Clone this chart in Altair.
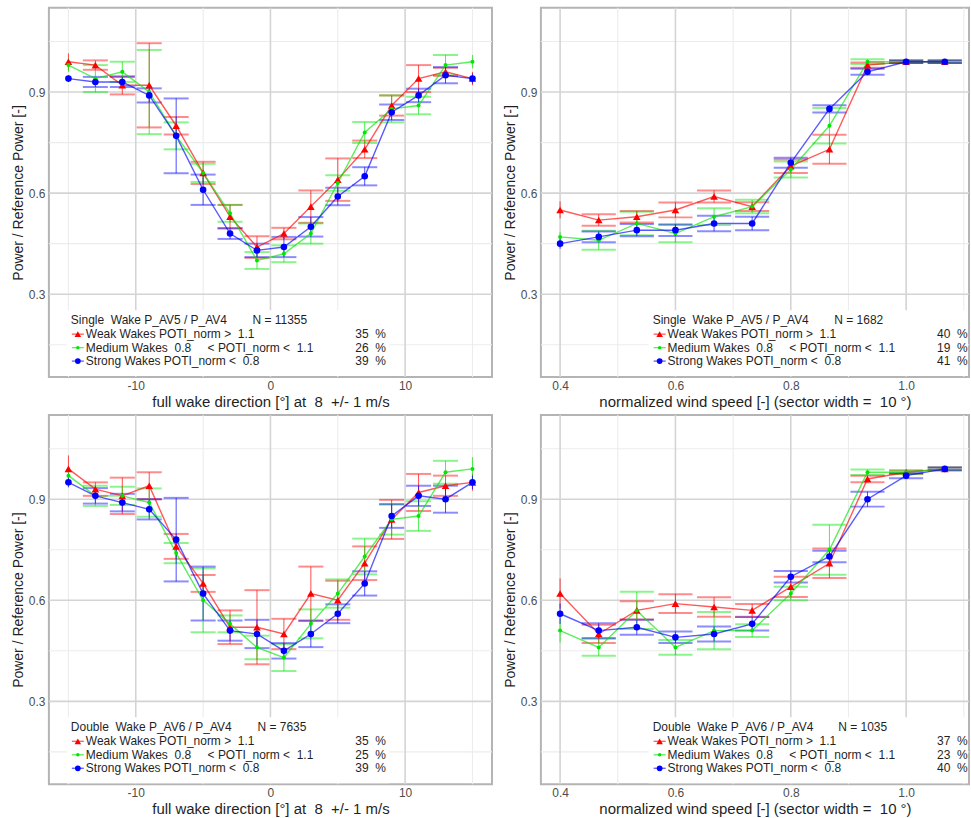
import altair as alt
import pandas as pd

FONT = "Liberation Sans"
TEXT = "#1f1f1f"

# x positions: wake direction bins [deg] and normalised wind-speed bins [-]
DIRECTION = [-15, -13, -11, -9, -7, -5, -3, -1, 1, 3, 5, 7, 9, 11, 13, 15]
SPEED = [0.4, 0.467, 0.533, 0.6, 0.667, 0.733, 0.8, 0.867, 0.933, 1.0, 1.067]

# Single wake P_AV5 / P_AV4 vs. direction
S_DIR_WEAK = [0.99, 0.98, 0.92, 0.92, 0.80, 0.66, 0.53, 0.44, 0.48, 0.56, 0.64, 0.73, 0.86, 0.94, 0.96, 0.94]
S_DIR_WEAK_ERR = [0.025, 0.014, 0.027, 0.125, 0.026, 0.033, 0.035, 0.032, 0.017, 0.048, 0.063, 0.026, 0.03, 0.04, 0.012, 0.02]
S_DIR_MED = [0.98, 0.94, 0.96, 0.90, 0.77, 0.66, 0.54, 0.40, 0.42, 0.48, 0.63, 0.78, 0.85, 0.86, 0.98, 0.99]
S_DIR_MED_ERR = [0.02, 0.04, 0.03, 0.125, 0.04, 0.027, 0.025, 0.025, 0.025, 0.03, 0.023, 0.031, 0.04, 0.026, 0.03, 0.02]
S_DIR_STRONG = [0.94, 0.93, 0.93, 0.89, 0.77, 0.61, 0.48, 0.43, 0.44, 0.50, 0.59, 0.65, 0.84, 0.89, 0.95, 0.94]
S_DIR_STRONG_ERR = [0.01, 0.015, 0.015, 0.021, 0.111, 0.045, 0.016, 0.02, 0.03, 0.029, 0.026, 0.027, 0.023, 0.02, 0.024, 0.015]

# Single wake P_AV5 / P_AV4 vs. wind speed
S_SPD_WEAK = [0.55, 0.52, 0.53, 0.55, 0.59, 0.56, 0.68, 0.73, 0.98, 0.99, 0.99]
S_SPD_WEAK_ERR = [0.025, 0.017, 0.017, 0.022, 0.018, 0.013, 0.02, 0.043, 0.008, 0.004, 0.004]
S_SPD_MED = [0.47, 0.46, 0.51, 0.48, 0.53, 0.56, 0.67, 0.80, 0.99, 0.99, 0.99]
S_SPD_MED_ERR = [0.015, 0.028, 0.035, 0.026, 0.025, 0.02, 0.024, 0.053, 0.007, 0.004, 0.004]
S_SPD_STRONG = [0.45, 0.47, 0.49, 0.49, 0.51, 0.51, 0.69, 0.85, 0.96, 0.99, 0.99]
S_SPD_STRONG_ERR = [0.015, 0.016, 0.018, 0.017, 0.023, 0.02, 0.015, 0.011, 0.009, 0.004, 0.004]

# Double wake P_AV6 / P_AV4 vs. direction
D_DIR_WEAK = [0.99, 0.93, 0.91, 0.94, 0.76, 0.65, 0.52, 0.52, 0.50, 0.62, 0.60, 0.71, 0.84, 0.92, 0.94, 0.95]
D_DIR_WEAK_ERR = [0.04, 0.02, 0.054, 0.04, 0.037, 0.025, 0.05, 0.11, 0.045, 0.08, 0.058, 0.05, 0.058, 0.055, 0.03, 0.025]
D_DIR_MED = [0.97, 0.91, 0.91, 0.89, 0.74, 0.60, 0.53, 0.46, 0.43, 0.53, 0.62, 0.73, 0.84, 0.85, 0.98, 0.99]
D_DIR_MED_ERR = [0.015, 0.03, 0.027, 0.042, 0.03, 0.095, 0.025, 0.035, 0.04, 0.043, 0.042, 0.053, 0.045, 0.044, 0.034, 0.035]
D_DIR_STRONG = [0.95, 0.91, 0.89, 0.87, 0.78, 0.62, 0.51, 0.50, 0.45, 0.50, 0.56, 0.65, 0.85, 0.91, 0.90, 0.95]
D_DIR_STRONG_ERR = [0.015, 0.023, 0.026, 0.03, 0.124, 0.08, 0.03, 0.042, 0.023, 0.039, 0.028, 0.036, 0.035, 0.03, 0.04, 0.02]

# Double wake P_AV6 / P_AV4 vs. wind speed
D_SPD_WEAK = [0.62, 0.50, 0.57, 0.59, 0.58, 0.57, 0.64, 0.71, 0.96, 0.98, 0.99]
D_SPD_WEAK_ERR = [0.045, 0.027, 0.027, 0.028, 0.029, 0.019, 0.03, 0.044, 0.01, 0.005, 0.004]
D_SPD_MED = [0.51, 0.46, 0.57, 0.46, 0.51, 0.51, 0.62, 0.75, 0.98, 0.98, 0.99]
D_SPD_MED_ERR = [0.035, 0.025, 0.055, 0.022, 0.055, 0.019, 0.02, 0.074, 0.008, 0.005, 0.004]
D_SPD_STRONG = [0.56, 0.51, 0.52, 0.49, 0.50, 0.53, 0.67, 0.73, 0.90, 0.97, 0.99]
D_SPD_STRONG_ERR = [0.03, 0.022, 0.022, 0.017, 0.022, 0.02, 0.017, 0.017, 0.022, 0.008, 0.004]

# Share of samples per wake class [%] and sample counts
S_DIR_PCT = [35, 26, 39]
S_SPD_PCT = [40, 19, 41]
D_DIR_PCT = [35, 25, 39]
D_SPD_PCT = [37, 23, 40]
N_SAMPLES = [11355, 1682, 7635, 1035]

SERIES = ["Weak", "Medium", "Strong"]
COLORS = ["#ff0000", "#00e600", "#0000ff"]
SHAPES = ["triangle-up", "circle", "circle"]
SIZES = [58, 16, 44]
ITEM_TEXT = ["Weak Wakes POTI_norm >\u00a0 1.1", "Medium Wakes\u00a0 0.8", "Strong Wakes POTI_norm <\u00a0 0.8"]
MEDIUM_RANGE = "< POTI_norm <\u00a0 1.1"
HEADERS = ["Single\u00a0 Wake P_AV5 / P_AV4", "Double\u00a0 Wake P_AV6 / P_AV4"]

Y_DOMAIN = [0.054, 1.15]
Y_MAJOR = [0.3, 0.6, 0.9]
Y_MINOR = [0.15, 0.45, 0.75, 1.05]
Y_TITLE = "Power / Reference Power [-]"

DIR_DOMAIN = [-16.45, 16.45]
DIR_MAJOR = [-10, 0, 10]
DIR_MINOR = [-15, -5, 5, 15]
DIR_TITLE = "full wake direction [°] at\u00a0 8\u00a0 +/- 1 m/s"

SPD_DOMAIN = [0.3667, 1.109]
SPD_MAJOR = [0.4, 0.6, 0.8, 1.0]
SPD_MINOR = [0.5, 0.7, 0.9, 1.1]
SPD_TITLE = "normalized wind speed [-] (sector width =\u00a0 10 °)"

PLOT_H = 370
ONE = pd.DataFrame({"k": [0]})


def text_layer(t, px, py, align="left"):
    return alt.Chart(ONE).mark_text(
        text=t, align=align, baseline="middle", font=FONT, fontSize=12, color=TEXT
    ).encode(x=alt.value(px), y=alt.value(py))


def panel(xs, means, errs, kind, header, n, pcts, width, legend_left, n_offset):
    if kind == "dir":
        x_domain, x_major, x_minor, x_title, cap_half, caps_last = DIR_DOMAIN, DIR_MAJOR, DIR_MINOR, DIR_TITLE, 0.93, False
        x_axis = alt.Axis(values=x_major, title=x_title, labelExpr="toString(datum.value)")
    else:
        x_domain, x_major, x_minor, x_title, cap_half, caps_last = SPD_DOMAIN, SPD_MAJOR, SPD_MINOR, SPD_TITLE, 0.0296, True
        x_axis = alt.Axis(values=x_major, title=x_title, format=".1f")
    y_axis = alt.Axis(values=Y_MAJOR, title=Y_TITLE, format=".1f")

    xs_scale = alt.Scale(domain=x_domain, nice=False, zero=False)
    ys_scale = alt.Scale(domain=Y_DOMAIN, nice=False, zero=False)
    color = alt.Color("series:N", scale=alt.Scale(domain=SERIES, range=COLORS), legend=None)

    rows = []
    for s, m, e in zip(SERIES, means, errs):
        for i, (x, y, d) in enumerate(zip(xs, m, e)):
            rows.append(dict(series=s, x=x, y=y, lo=y - d, hi=y + d, idx=i))
    df = pd.DataFrame(rows)

    last = len(xs) if caps_last else len(xs) - 1
    caps = []
    for r in rows:
        if 1 <= r["idx"] < last:
            for yy in (r["lo"], r["hi"]):
                caps.append(dict(series=r["series"], x1=r["x"] - cap_half, x2=r["x"] + cap_half, y=yy))
    caps_df = pd.DataFrame(caps)

    def vgrid(vals, col, w):
        return alt.Chart(pd.DataFrame({"v": vals})).mark_rule(color=col, strokeWidth=w).encode(
            x=alt.X("v:Q", scale=xs_scale, axis=x_axis))

    def hgrid(vals, col, w):
        return alt.Chart(pd.DataFrame({"v": vals})).mark_rule(color=col, strokeWidth=w).encode(
            y=alt.Y("v:Q", scale=ys_scale, axis=y_axis))

    layers = [
        vgrid(x_minor, "#ececec", 1.1),
        hgrid(Y_MINOR, "#ececec", 1.1),
        vgrid(x_major, "#d4d4d4", 1.6),
        hgrid(Y_MAJOR, "#d4d4d4", 1.6),
        # white legend box hiding the grid
        alt.Chart(ONE).mark_rect(color="white").encode(
            x=alt.value(legend_left), x2=alt.value(min(legend_left + 323, width - 1)),
            y=alt.value(303), y2=alt.value(PLOT_H - 1)),
        # error-bar caps
        alt.Chart(caps_df).mark_rule(strokeWidth=2, opacity=0.45).encode(
            x=alt.X("x1:Q", scale=xs_scale, axis=x_axis), x2="x2:Q",
            y=alt.Y("y:Q", scale=ys_scale, axis=y_axis), color=color),
        # error-bar stems
        alt.Chart(df).mark_rule(strokeWidth=1, opacity=0.7).encode(
            x=alt.X("x:Q", scale=xs_scale, axis=x_axis),
            y=alt.Y("lo:Q", scale=ys_scale, axis=y_axis), y2="hi:Q", color=color),
        # connecting lines
        alt.Chart(df).mark_line(strokeWidth=1.4, opacity=0.65).encode(
            x=alt.X("x:Q", scale=xs_scale, axis=x_axis),
            y=alt.Y("y:Q", scale=ys_scale, axis=y_axis), color=color, order="x:Q"),
    ]
    # class means, one marker style per wake class
    for i, s in enumerate(SERIES):
        layers.append(
            alt.Chart(df[df["series"] == s]).mark_point(
                filled=True, opacity=1, shape=SHAPES[i], size=SIZES[i], color=COLORS[i]
            ).encode(
                x=alt.X("x:Q", scale=xs_scale, axis=x_axis),
                y=alt.Y("y:Q", scale=ys_scale, axis=y_axis))
        )

    # in-plot legend
    layers.append(text_layer(header, legend_left + 4, 313))
    layers.append(text_layer(f"N = {n}", legend_left + n_offset, 313))
    row_y = [327, 340.5, 354]
    for i, s in enumerate(SERIES):
        py = row_y[i]
        layers.append(alt.Chart(ONE).mark_rule(color=COLORS[i], strokeWidth=1.3, opacity=0.65).encode(
            x=alt.value(legend_left + 5), x2=alt.value(legend_left + 17), y=alt.value(py)))
        layers.append(alt.Chart(ONE).mark_point(
            shape=SHAPES[i], filled=True, size=SIZES[i] * 0.75, color=COLORS[i], opacity=1
        ).encode(x=alt.value(legend_left + 11), y=alt.value(py)))
        layers.append(text_layer(ITEM_TEXT[i], legend_left + 19, py))
        if s == "Medium":
            layers.append(text_layer(MEDIUM_RANGE, legend_left + 141, py))
        layers.append(text_layer(f"{pcts[i]}\u00a0 %", legend_left + 289, py))

    return alt.layer(*layers).properties(width=width, height=PLOT_H)


p1 = panel(DIRECTION, [S_DIR_WEAK, S_DIR_MED, S_DIR_STRONG], [S_DIR_WEAK_ERR, S_DIR_MED_ERR, S_DIR_STRONG_ERR],
           "dir", HEADERS[0], N_SAMPLES[0], S_DIR_PCT, 444, 18, 186)
p2 = panel(SPEED, [S_SPD_WEAK, S_SPD_MED, S_SPD_STRONG], [S_SPD_WEAK_ERR, S_SPD_MED_ERR, S_SPD_STRONG_ERR],
           "spd", HEADERS[0], N_SAMPLES[1], S_SPD_PCT, 429, 108, 186)
p3 = panel(DIRECTION, [D_DIR_WEAK, D_DIR_MED, D_DIR_STRONG], [D_DIR_WEAK_ERR, D_DIR_MED_ERR, D_DIR_STRONG_ERR],
           "dir", HEADERS[1], N_SAMPLES[2], D_DIR_PCT, 444, 18, 191)
p4 = panel(SPEED, [D_SPD_WEAK, D_SPD_MED, D_SPD_STRONG], [D_SPD_WEAK_ERR, D_SPD_MED_ERR, D_SPD_STRONG_ERR],
           "spd", HEADERS[1], N_SAMPLES[3], D_SPD_PCT, 429, 108, 190)

chart = alt.vconcat(
    alt.hconcat(p1, p2, spacing=8),
    alt.hconcat(p3, p4, spacing=8),
    spacing=3,
).properties(
    padding={"left": 10, "top": 5, "right": 0, "bottom": 0},
    background="white",
).configure_view(
    stroke="#b4b4b4", strokeWidth=2,
).configure_axis(
    grid=False, ticks=False, domain=False,
    labelFont=FONT, labelFontSize=12, labelColor="#4d4d4d",
    titleFont=FONT, titleFontWeight="normal", titleColor=TEXT,
).configure_axisX(
    labelPadding=3, titleFontSize=15, titlePadding=3,
).configure_axisY(
    labelPadding=4, titleFontSize=14, titlePadding=3,
)

chart.save("out.html", embed_options={"renderer": "svg", "actions": False})
